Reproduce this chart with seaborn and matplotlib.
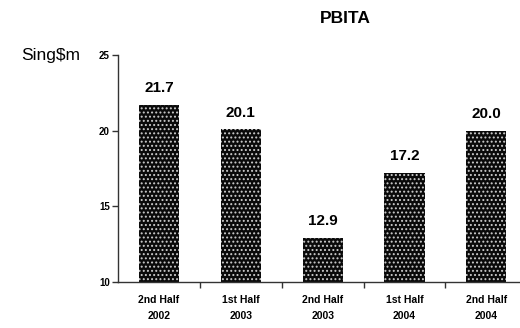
import numpy as np
import pandas as pd
import seaborn as sns
import matplotlib.pyplot as plt

periods = ["2nd Half\n2002", "1st Half\n2003", "2nd Half\n2003", "1st Half\n2004", "2nd Half\n2004"]
pbita = [21.7, 20.1, 12.9, 17.2, 20.0]
y_ticks = [10, 15, 20, 25]

df = pd.DataFrame({"period": periods, "pbita": pbita})

sns.set_style("white")
plt.rcParams['font.family'] = ['Liberation Sans', 'DejaVu Sans']
plt.rcParams['text.color'] = 'black'
plt.rcParams['xtick.color'] = 'black'
plt.rcParams['ytick.color'] = 'black'
plt.rcParams['hatch.linewidth'] = 0.9

fig = plt.figure(figsize=(5.2, 3.28), dpi=100)
ax = fig.add_axes([0.227, 0.140, 0.787, 0.692])

sns.barplot(data=df, x="period", y="pbita", color="#0a0a0a", width=0.49, ax=ax, saturation=1)
for p in ax.patches:
    p.set_hatch("....")
    p.set_edgecolor("#cccccc")
    p.set_linewidth(0)

ax.bar_label(ax.containers[0], fmt="%.1f", padding=7, fontsize=11, fontweight="bold", color="black")

ax.set_ylim(10, 25)
ax.set_xlim(-0.5, 4.5)
ax.set_yticks(y_ticks)
ax.set_yticklabels([str(t) for t in y_ticks], fontsize=7, fontweight="bold")
ax.set_xticks(range(len(periods)))
ax.set_xticklabels(periods, fontsize=7.5, fontweight="bold", linespacing=1.8)
ax.set_xticks([0.5, 1.5, 2.5, 3.5], minor=True)
ax.tick_params(axis="x", which="major", length=0, pad=9)
ax.tick_params(axis="x", which="minor", length=4, width=1, direction="out", color="#333333", bottom=True)
ax.tick_params(axis="y", length=4, width=1, direction="out", color="#333333", left=True, pad=2)
ax.set_xlabel("")
ax.set_ylabel("")
for s in ["top", "right"]:
    ax.spines[s].set_visible(False)
for s in ["left", "bottom"]:
    ax.spines[s].set_color("#333333")
    ax.spines[s].set_linewidth(1)

fig.text(0.664, 0.945, "PBITA", ha="center", va="center", fontsize=12.5, fontweight="bold")
fig.text(0.155, 0.832, "Sing$m", ha="right", va="center", fontsize=12.5)

fig.savefig("out.png", dpi=100)
